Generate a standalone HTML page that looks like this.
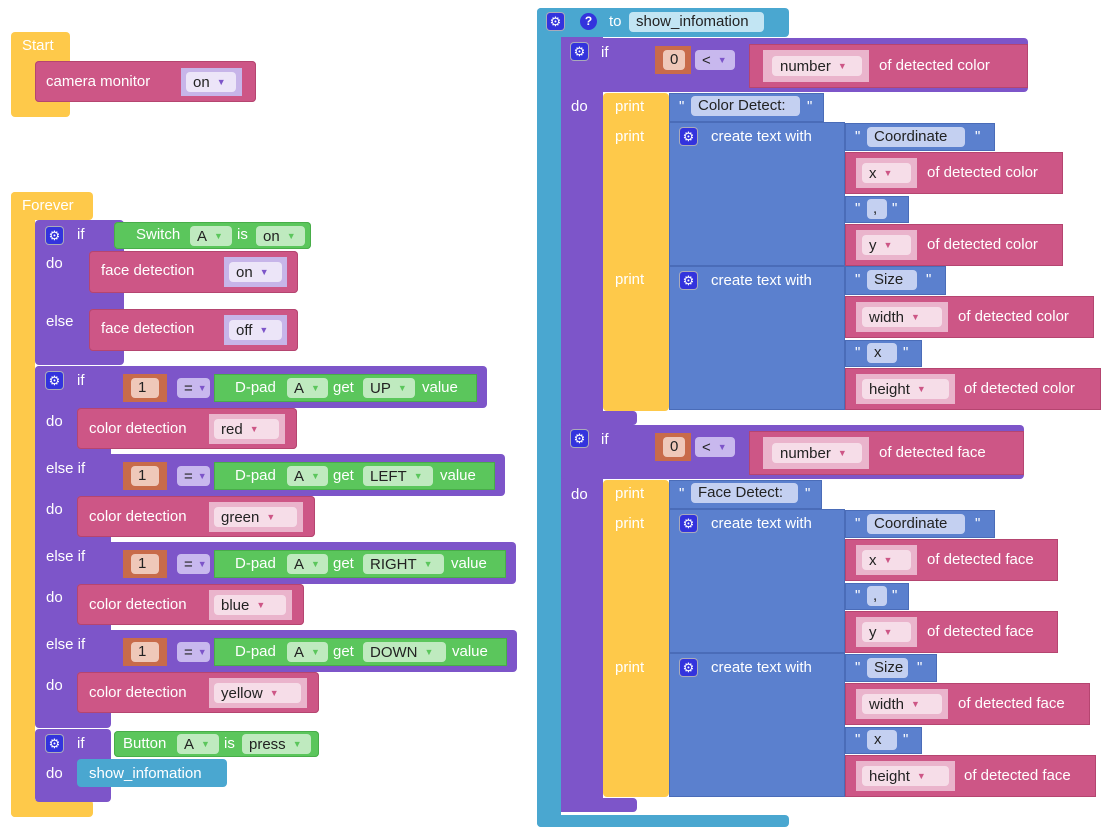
<!DOCTYPE html>
<html><head><meta charset="utf-8"><style>
body{margin:0;width:1110px;height:840px;background:#fff;position:relative;overflow:hidden;font-family:"Liberation Sans",sans-serif}
.a{position:absolute;border-radius:4px}
.Y{background:#fec94a}.P{background:#7d55c9}.K{background:#cd5686;box-shadow:inset 0 0 0 1px #b54570}.G{background:#5bc65c;box-shadow:inset 0 0 0 1px #48ad49}.B{background:#5b80ce;box-shadow:inset 0 0 0 1px #4a6cb8}.T{background:#4aa7d0}.O{background:#c86b4a}
.t{position:absolute;color:#fff;font:15px/18px "Liberation Sans",sans-serif;white-space:nowrap}
.p{position:absolute;border-radius:4px;color:#222;font:15px/20px "Liberation Sans",sans-serif;white-space:nowrap;padding-left:7px;box-sizing:border-box;height:20px}
.fl{background:#c7b5e9}.fk{background:#eab4cc}
.pl{background:#ece5f8}.pk{background:#f6dde8}.pg{background:#bfeabf}.pb{background:#c4d0f1}.pt{background:#c2e5f3}.po{background:#efc8b9}.pe{background:#c8b8ee}
.v{font-size:9px;margin-left:7px;vertical-align:2px}
.vl{color:#7d55c9}.vk{color:#cd5686}.vg{color:#5bc65c}
.gr{position:absolute;width:17px;height:17px;background:#3333dd;border-radius:3px;color:#fff;font-size:13px;text-align:center;line-height:17px;box-shadow:0 0 0 1px #aab}
</style></head><body>

<!-- Start -->
<div class="a Y" style="left:11px;top:32px;width:59px;height:85px"></div>
<div class="t" style="left:22px;top:37px">Start</div>
<div class="a K" style="left:35px;top:61px;width:221px;height:41px"></div>
<div class="t" style="left:46px;top:73px">camera monitor</div>
<div class="a fl" style="left:181px;top:68px;width:61px;height:28px;border-radius:0"></div>
<div class="p pl" style="left:186px;top:72px;width:50px">on<span class="v vl">▼</span></div>

<!-- Forever -->
<div class="a Y" style="left:11px;top:192px;width:82px;height:28px"></div>
<div class="a Y" style="left:11px;top:192px;width:24px;height:625px"></div>
<div class="a Y" style="left:11px;top:800px;width:82px;height:17px"></div>
<div class="t" style="left:22px;top:197px">Forever</div>

<!-- if 1 -->
<div class="a P" style="left:35px;top:220px;width:89px;height:145px"></div>
<div class="gr" style="left:46px;top:227px">⚙</div>
<div class="t" style="left:77px;top:226px">if</div>
<div class="t" style="left:46px;top:255px">do</div>
<div class="t" style="left:46px;top:313px">else</div>
<div class="a G" style="left:114px;top:222px;width:197px;height:27px"></div>
<div class="t" style="left:136px;top:226px">Switch</div>
<div class="p pg" style="left:190px;top:226px;width:42px">A<span class="v vg">▼</span></div>
<div class="t" style="left:237px;top:226px">is</div>
<div class="p pg" style="left:256px;top:226px;width:49px">on<span class="v vg">▼</span></div>
<div class="a K" style="left:89px;top:251px;width:209px;height:42px"></div>
<div class="t" style="left:101px;top:262px">face detection</div>
<div class="a fl" style="left:224px;top:257px;width:63px;height:30px;border-radius:0"></div>
<div class="p pl" style="left:229px;top:262px;width:53px">on<span class="v vl">▼</span></div>
<div class="a K" style="left:89px;top:309px;width:209px;height:42px"></div>
<div class="t" style="left:101px;top:320px">face detection</div>
<div class="a fl" style="left:224px;top:315px;width:63px;height:30px;border-radius:0"></div>
<div class="p pl" style="left:229px;top:320px;width:53px">off<span class="v vl">▼</span></div>

<!-- if 2 -->
<div class="a P" style="left:35px;top:366px;width:76px;height:362px"></div>
<div class="a P" style="left:35px;top:366px;width:452px;height:42px"></div>
<div class="a P" style="left:35px;top:454px;width:470px;height:42px"></div>
<div class="a P" style="left:35px;top:542px;width:481px;height:42px"></div>
<div class="a P" style="left:35px;top:630px;width:482px;height:42px"></div>
<div class="gr" style="left:46px;top:372px">⚙</div>
<div class="t" style="left:77px;top:372px">if</div>
<div class="t" style="left:46px;top:413px">do</div>
<div class="t" style="left:46px;top:460px">else if</div>
<div class="t" style="left:46px;top:501px">do</div>
<div class="t" style="left:46px;top:548px">else if</div>
<div class="t" style="left:46px;top:589px">do</div>
<div class="t" style="left:46px;top:636px">else if</div>
<div class="t" style="left:46px;top:677px">do</div>

<!-- row UP -->
<div class="a O" style="left:123px;top:374px;width:44px;height:28px;border-radius:0"></div>
<div class="p po" style="left:131px;top:378px;width:28px">1</div>
<div class="p pe" style="left:177px;top:378px;width:33px">=<span class="v vl" style="margin-left:5px">▼</span></div>
<div class="a G" style="left:214px;top:374px;width:263px;height:28px;border-radius:0"></div>
<div class="t" style="left:235px;top:379px">D-pad</div>
<div class="p pg" style="left:287px;top:378px;width:41px">A<span class="v vg">▼</span></div>
<div class="t" style="left:333px;top:379px">get</div>
<div class="p pg" style="left:363px;top:378px;width:52px">UP<span class="v vg">▼</span></div>
<div class="t" style="left:422px;top:379px">value</div>
<!-- row LEFT -->
<div class="a O" style="left:123px;top:462px;width:44px;height:28px;border-radius:0"></div>
<div class="p po" style="left:131px;top:466px;width:28px">1</div>
<div class="p pe" style="left:177px;top:466px;width:33px">=<span class="v vl" style="margin-left:5px">▼</span></div>
<div class="a G" style="left:214px;top:462px;width:281px;height:28px;border-radius:0"></div>
<div class="t" style="left:235px;top:467px">D-pad</div>
<div class="p pg" style="left:287px;top:466px;width:41px">A<span class="v vg">▼</span></div>
<div class="t" style="left:333px;top:467px">get</div>
<div class="p pg" style="left:363px;top:466px;width:70px">LEFT<span class="v vg">▼</span></div>
<div class="t" style="left:440px;top:467px">value</div>
<!-- row RIGHT -->
<div class="a O" style="left:123px;top:550px;width:44px;height:28px;border-radius:0"></div>
<div class="p po" style="left:131px;top:554px;width:28px">1</div>
<div class="p pe" style="left:177px;top:554px;width:33px">=<span class="v vl" style="margin-left:5px">▼</span></div>
<div class="a G" style="left:214px;top:550px;width:292px;height:28px;border-radius:0"></div>
<div class="t" style="left:235px;top:555px">D-pad</div>
<div class="p pg" style="left:287px;top:554px;width:41px">A<span class="v vg">▼</span></div>
<div class="t" style="left:333px;top:555px">get</div>
<div class="p pg" style="left:363px;top:554px;width:81px">RIGHT<span class="v vg">▼</span></div>
<div class="t" style="left:451px;top:555px">value</div>
<!-- row DOWN -->
<div class="a O" style="left:123px;top:638px;width:44px;height:28px;border-radius:0"></div>
<div class="p po" style="left:131px;top:642px;width:28px">1</div>
<div class="p pe" style="left:177px;top:642px;width:33px">=<span class="v vl" style="margin-left:5px">▼</span></div>
<div class="a G" style="left:214px;top:638px;width:293px;height:28px;border-radius:0"></div>
<div class="t" style="left:235px;top:643px">D-pad</div>
<div class="p pg" style="left:287px;top:642px;width:41px">A<span class="v vg">▼</span></div>
<div class="t" style="left:333px;top:643px">get</div>
<div class="p pg" style="left:363px;top:642px;width:83px">DOWN<span class="v vg">▼</span></div>
<div class="t" style="left:452px;top:643px">value</div>

<!-- color detection -->
<div class="a K" style="left:77px;top:408px;width:220px;height:41px"></div>
<div class="t" style="left:89px;top:420px">color detection</div>
<div class="a fk" style="left:209px;top:414px;width:76px;height:30px;border-radius:0"></div>
<div class="p pk" style="left:214px;top:419px;width:65px">red<span class="v vk">▼</span></div>
<div class="a K" style="left:77px;top:496px;width:238px;height:41px"></div>
<div class="t" style="left:89px;top:508px">color detection</div>
<div class="a fk" style="left:209px;top:502px;width:94px;height:30px;border-radius:0"></div>
<div class="p pk" style="left:214px;top:507px;width:83px">green<span class="v vk">▼</span></div>
<div class="a K" style="left:77px;top:584px;width:227px;height:41px"></div>
<div class="t" style="left:89px;top:596px">color detection</div>
<div class="a fk" style="left:209px;top:590px;width:83px;height:30px;border-radius:0"></div>
<div class="p pk" style="left:214px;top:595px;width:72px">blue<span class="v vk">▼</span></div>
<div class="a K" style="left:77px;top:672px;width:242px;height:41px"></div>
<div class="t" style="left:89px;top:684px">color detection</div>
<div class="a fk" style="left:209px;top:678px;width:98px;height:30px;border-radius:0"></div>
<div class="p pk" style="left:214px;top:683px;width:87px">yellow<span class="v vk">▼</span></div>

<!-- if 3 -->
<div class="a P" style="left:35px;top:729px;width:76px;height:73px"></div>
<div class="gr" style="left:46px;top:735px">⚙</div>
<div class="t" style="left:77px;top:735px">if</div>
<div class="t" style="left:46px;top:765px">do</div>
<div class="a G" style="left:114px;top:731px;width:205px;height:26px"></div>
<div class="t" style="left:123px;top:735px">Button</div>
<div class="p pg" style="left:177px;top:734px;width:42px">A<span class="v vg">▼</span></div>
<div class="t" style="left:224px;top:735px">is</div>
<div class="p pg" style="left:242px;top:734px;width:69px">press<span class="v vg">▼</span></div>
<div class="a T" style="left:77px;top:759px;width:150px;height:28px"></div>
<div class="t" style="left:89px;top:765px">show_infomation</div>

<!-- RIGHT: function -->
<div class="a T" style="left:537px;top:8px;width:252px;height:29px"></div>
<div class="a T" style="left:537px;top:8px;width:24px;height:819px"></div>
<div class="a T" style="left:537px;top:815px;width:252px;height:12px"></div>
<div class="gr" style="left:547px;top:13px">⚙</div>
<div class="a" style="left:580px;top:13px;width:17px;height:17px;border-radius:50%;background:#3333dd;color:#fff;font:bold 12px/17px 'Liberation Sans',sans-serif;text-align:center">?</div>
<div class="t" style="left:609px;top:13px">to</div>
<div class="p pt" style="left:629px;top:12px;width:135px">show_infomation</div>

<!-- if A -->
<div class="a P" style="left:561px;top:37px;width:42px;height:388px;border-radius:0"></div>
<div class="a P" style="left:561px;top:38px;width:467px;height:54px"></div>
<div class="a P" style="left:561px;top:411px;width:76px;height:14px"></div>
<div class="gr" style="left:571px;top:43px">⚙</div>
<div class="t" style="left:601px;top:44px">if</div>
<div class="t" style="left:571px;top:98px">do</div>
<div class="a O" style="left:655px;top:46px;width:36px;height:28px;border-radius:0"></div>
<div class="p po" style="left:663px;top:50px;width:22px">0</div>
<div class="p pe" style="left:695px;top:50px;width:40px">&lt;<span class="v vl">▼</span></div>
<div class="a K" style="left:749px;top:44px;width:279px;height:44px;border-radius:0"></div>
<div class="a fk" style="left:763px;top:50px;width:106px;height:32px;border-radius:0"></div>
<div class="p pk" style="left:772px;top:56px;width:90px;padding-left:8px">number<span class="v vk">▼</span></div>
<div class="t" style="left:879px;top:57px">of detected color</div>

<div class="a Y" style="left:603px;top:93px;width:66px;height:318px"></div>
<div class="t" style="left:615px;top:98px">print</div>
<div class="t" style="left:615px;top:128px">print</div>
<div class="t" style="left:615px;top:271px">print</div>
<div class="a B" style="left:669px;top:93px;width:155px;height:29px;border-radius:0"></div>
<div class="t" style="left:679px;top:98px">"</div>
<div class="p pb" style="left:691px;top:96px;width:109px">Color Detect:</div>
<div class="t" style="left:807px;top:98px">"</div>

<div class="a B" style="left:669px;top:122px;width:176px;height:144px;border-radius:0"></div>
<div class="gr" style="left:680px;top:128px">⚙</div>
<div class="t" style="left:711px;top:128px">create text with</div>
<div class="a B" style="left:845px;top:123px;width:150px;height:28px;border-radius:0"></div>
<div class="t" style="left:855px;top:128px">"</div>
<div class="p pb" style="left:867px;top:127px;width:98px">Coordinate</div>
<div class="t" style="left:975px;top:128px">"</div>
<div class="a K" style="left:845px;top:152px;width:218px;height:42px;border-radius:0"></div>
<div class="a fk" style="left:856px;top:158px;width:61px;height:30px;border-radius:0"></div>
<div class="p pk" style="left:862px;top:163px;width:49px">x<span class="v vk">▼</span></div>
<div class="t" style="left:927px;top:164px">of detected color</div>
<div class="a B" style="left:845px;top:196px;width:64px;height:27px;border-radius:0"></div>
<div class="t" style="left:855px;top:200px">"</div>
<div class="p pb" style="left:867px;top:199px;width:20px;padding-left:6px">,</div>
<div class="t" style="left:892px;top:200px">"</div>
<div class="a K" style="left:845px;top:224px;width:218px;height:42px;border-radius:0"></div>
<div class="a fk" style="left:856px;top:230px;width:61px;height:30px;border-radius:0"></div>
<div class="p pk" style="left:862px;top:235px;width:49px">y<span class="v vk">▼</span></div>
<div class="t" style="left:927px;top:236px">of detected color</div>

<div class="a B" style="left:669px;top:266px;width:176px;height:144px;border-radius:0"></div>
<div class="gr" style="left:680px;top:272px">⚙</div>
<div class="t" style="left:711px;top:272px">create text with</div>
<div class="a B" style="left:845px;top:266px;width:101px;height:29px;border-radius:0"></div>
<div class="t" style="left:855px;top:271px">"</div>
<div class="p pb" style="left:867px;top:270px;width:50px">Size</div>
<div class="t" style="left:926px;top:271px">"</div>
<div class="a K" style="left:845px;top:296px;width:249px;height:42px;border-radius:0"></div>
<div class="a fk" style="left:856px;top:302px;width:92px;height:30px;border-radius:0"></div>
<div class="p pk" style="left:862px;top:307px;width:80px">width<span class="v vk">▼</span></div>
<div class="t" style="left:958px;top:308px">of detected color</div>
<div class="a B" style="left:845px;top:340px;width:77px;height:27px;border-radius:0"></div>
<div class="t" style="left:855px;top:344px">"</div>
<div class="p pb" style="left:867px;top:343px;width:30px">x</div>
<div class="t" style="left:903px;top:344px">"</div>
<div class="a K" style="left:845px;top:368px;width:256px;height:42px;border-radius:0"></div>
<div class="a fk" style="left:856px;top:374px;width:99px;height:30px;border-radius:0"></div>
<div class="p pk" style="left:862px;top:379px;width:87px">height<span class="v vk">▼</span></div>
<div class="t" style="left:964px;top:380px">of detected color</div>

<!-- if B -->
<div class="a P" style="left:561px;top:425px;width:42px;height:387px;border-radius:0"></div>
<div class="a P" style="left:561px;top:425px;width:463px;height:54px"></div>
<div class="a P" style="left:561px;top:798px;width:76px;height:14px"></div>
<div class="gr" style="left:571px;top:430px">⚙</div>
<div class="t" style="left:601px;top:431px">if</div>
<div class="t" style="left:571px;top:486px">do</div>
<div class="a O" style="left:655px;top:433px;width:36px;height:28px;border-radius:0"></div>
<div class="p po" style="left:663px;top:437px;width:22px">0</div>
<div class="p pe" style="left:695px;top:437px;width:40px">&lt;<span class="v vl">▼</span></div>
<div class="a K" style="left:749px;top:431px;width:275px;height:44px;border-radius:0"></div>
<div class="a fk" style="left:763px;top:437px;width:106px;height:32px;border-radius:0"></div>
<div class="p pk" style="left:772px;top:443px;width:90px;padding-left:8px">number<span class="v vk">▼</span></div>
<div class="t" style="left:879px;top:444px">of detected face</div>

<div class="a Y" style="left:603px;top:480px;width:66px;height:317px"></div>
<div class="t" style="left:615px;top:485px">print</div>
<div class="t" style="left:615px;top:515px">print</div>
<div class="t" style="left:615px;top:659px">print</div>
<div class="a B" style="left:669px;top:480px;width:153px;height:29px;border-radius:0"></div>
<div class="t" style="left:679px;top:485px">"</div>
<div class="p pb" style="left:691px;top:483px;width:107px">Face Detect:</div>
<div class="t" style="left:805px;top:485px">"</div>

<div class="a B" style="left:669px;top:509px;width:176px;height:144px;border-radius:0"></div>
<div class="gr" style="left:680px;top:515px">⚙</div>
<div class="t" style="left:711px;top:515px">create text with</div>
<div class="a B" style="left:845px;top:510px;width:150px;height:28px;border-radius:0"></div>
<div class="t" style="left:855px;top:515px">"</div>
<div class="p pb" style="left:867px;top:514px;width:98px">Coordinate</div>
<div class="t" style="left:975px;top:515px">"</div>
<div class="a K" style="left:845px;top:539px;width:213px;height:42px;border-radius:0"></div>
<div class="a fk" style="left:856px;top:545px;width:61px;height:30px;border-radius:0"></div>
<div class="p pk" style="left:862px;top:550px;width:49px">x<span class="v vk">▼</span></div>
<div class="t" style="left:927px;top:551px">of detected face</div>
<div class="a B" style="left:845px;top:583px;width:64px;height:27px;border-radius:0"></div>
<div class="t" style="left:855px;top:587px">"</div>
<div class="p pb" style="left:867px;top:586px;width:20px;padding-left:6px">,</div>
<div class="t" style="left:892px;top:587px">"</div>
<div class="a K" style="left:845px;top:611px;width:213px;height:42px;border-radius:0"></div>
<div class="a fk" style="left:856px;top:617px;width:61px;height:30px;border-radius:0"></div>
<div class="p pk" style="left:862px;top:622px;width:49px">y<span class="v vk">▼</span></div>
<div class="t" style="left:927px;top:623px">of detected face</div>

<div class="a B" style="left:669px;top:653px;width:176px;height:144px;border-radius:0"></div>
<div class="gr" style="left:680px;top:659px">⚙</div>
<div class="t" style="left:711px;top:659px">create text with</div>
<div class="a B" style="left:845px;top:654px;width:92px;height:28px;border-radius:0"></div>
<div class="t" style="left:855px;top:659px">"</div>
<div class="p pb" style="left:867px;top:658px;width:41px">Size</div>
<div class="t" style="left:917px;top:659px">"</div>
<div class="a K" style="left:845px;top:683px;width:245px;height:42px;border-radius:0"></div>
<div class="a fk" style="left:856px;top:689px;width:92px;height:30px;border-radius:0"></div>
<div class="p pk" style="left:862px;top:694px;width:80px">width<span class="v vk">▼</span></div>
<div class="t" style="left:958px;top:695px">of detected face</div>
<div class="a B" style="left:845px;top:727px;width:77px;height:27px;border-radius:0"></div>
<div class="t" style="left:855px;top:731px">"</div>
<div class="p pb" style="left:867px;top:730px;width:30px">x</div>
<div class="t" style="left:903px;top:731px">"</div>
<div class="a K" style="left:845px;top:755px;width:251px;height:42px;border-radius:0"></div>
<div class="a fk" style="left:856px;top:761px;width:99px;height:30px;border-radius:0"></div>
<div class="p pk" style="left:862px;top:766px;width:87px">height<span class="v vk">▼</span></div>
<div class="t" style="left:964px;top:767px">of detected face</div>

</body></html>
